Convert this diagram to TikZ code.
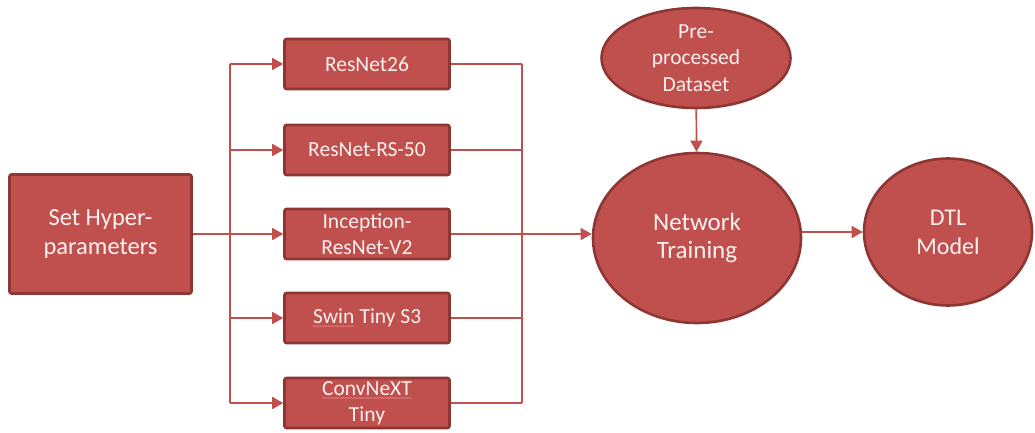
\documentclass[tikz,border=0pt]{standalone}
\usepackage{fontspec}
\setmainfont{Carlito}
\usetikzlibrary{arrows.meta,shapes.geometric,decorations.pathmorphing}
\definecolor{accent}{HTML}{C0504D}
\definecolor{edge}{HTML}{8E3634}
\definecolor{ink}{HTML}{FBF0F0}
\definecolor{spell}{HTML}{E27A7A}
% red wavy underline for words flagged by the spell checker
\newcommand\spellwave[1]{\tikz[baseline=(w.base)]{%
  \node[inner sep=0pt, outer sep=0pt, minimum width=0pt, minimum height=0pt,
        draw=none, fill=none, rounded corners=0pt] (w) {#1};
  \draw[spell, line width=0.6pt, rounded corners=0pt, decorate,
        decoration={snake, amplitude=0.7pt, segment length=2.6pt}]
    ([yshift=-2.6pt]w.south west) -- ([yshift=-2.6pt]w.south east);}}
\tikzset{
  block/.style={draw=edge, fill=accent, line width=2.6pt, rounded corners=2pt,
    text=ink, align=center, inner sep=0pt},
  model/.style={block, minimum width=165pt, minimum height=50pt,
    font=\fontsize{21.5}{26}\selectfont},
  oval/.style={ellipse, draw=edge, fill=accent, line width=2.6pt,
    text=ink, align=center, inner sep=0pt},
  link/.style={draw=accent, line width=1.7pt},
  arr/.style={link, -{Triangle[length=11pt,width=12pt]}},
}
\begin{document}
\begin{tikzpicture}[x=1pt,y=-1pt]
\useasboundingbox (0,0) rectangle (1035,433);

% input block
\node[block, minimum width=182pt, minimum height=119pt,
      font=\fontsize{24.5}{29}\selectfont] (hyp) at (100.5,234) {Set Hyper-\\parameters};

% candidate backbones
\node[model] (r26)  at (367,64)  {ResNet26};
\node[model] (rs50) at (367,150) {ResNet-RS-50};
\node[model] (inc)  at (367,234) {Inception-\\ResNet-V2};
\node[model] (swin) at (367,318) {\spellwave{Swin} Tiny S3};
\node[model] (cnx)  at (367,403) {\spellwave{ConvNeXT}\\Tiny};

% training stage
\node[oval, minimum width=189pt, minimum height=100pt,
      font=\fontsize{21.5}{26.5}\selectfont] (pre) at (696,58) {Pre-\\processed\\Dataset};
\node[oval, minimum width=208pt, minimum height=170pt,
      font=\fontsize{25}{28.5}\selectfont] (nt) at (697,238) {Network\\Training};
\node[oval, minimum width=168pt, minimum height=147pt,
      font=\fontsize{24}{29}\selectfont] (dtl) at (948,232) {DTL\\Model};

% fan-out bus
\coordinate (lt) at (230,64);
\coordinate (lb) at (230,403);
\draw[link] (lt) -- (lb);
\draw[arr] (hyp.east) -- (inc.west);
\foreach \m in {r26,rs50,swin,cnx}
  \draw[arr] (\m.west -| lt) -- (\m.west);

% fan-in bus
\coordinate (rt) at (522,64);
\coordinate (rb) at (522,403);
\draw[link] (rt) -- (rb);
\foreach \m in {r26,rs50,inc,swin,cnx}
  \draw[link] (\m.east) -- (\m.east -| rt);

\draw[arr] (inc.east -| rt) -- (inc.east -| nt.west);
\draw[arr] (pre) -- (nt);
\draw[arr] (nt.east |- dtl) -- (dtl.west);
\end{tikzpicture}
\end{document}
